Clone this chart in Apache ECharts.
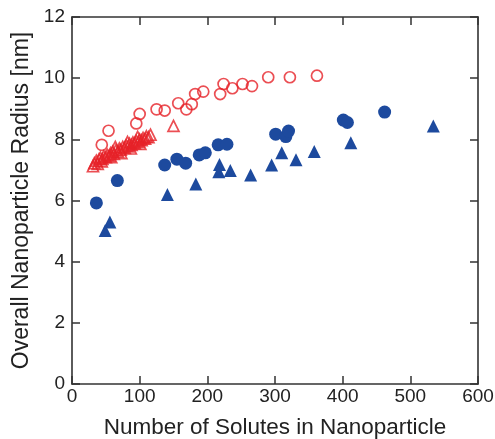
<!DOCTYPE html>
<html>
<head>
<meta charset="utf-8">
<script src="https://cdn.jsdelivr.net/npm/echarts@6/dist/echarts.min.js"></script>
<style>html,body{margin:0;padding:0;background:#fff}#c{width:495px;height:439px}</style>
</head>
<body>
<div id="c"></div>
<script>
// Blue filled circles
const blueCircles = [
  [36, 5.92], [67, 6.65], [137, 7.16], [155, 7.35], [168, 7.22], [188, 7.49], [197, 7.56],
  [216, 7.82], [229, 7.84], [301, 8.17], [316, 8.09], [320, 8.27], [401, 8.63], [407, 8.55], [462, 8.89]
];
// Blue filled triangles
const blueTriangles = [
  [49, 5.02], [56, 5.3], [141, 6.2], [183, 6.54], [217, 6.94], [218, 7.18], [234, 6.98],
  [264, 6.83], [295, 7.16], [310, 7.56], [331, 7.33], [358, 7.6], [412, 7.89], [534, 8.44]
];
// Red open circles
const redCircles = [
  [44, 7.82], [54, 8.28], [95, 8.52], [100, 8.83], [125, 8.98], [137, 8.94], [157, 9.18],
  [169, 8.98], [177, 9.15], [182, 9.48], [194, 9.56], [219, 9.48], [224, 9.81], [237, 9.67],
  [252, 9.81], [266, 9.74], [290, 10.03], [322, 10.03], [362, 10.08]
];
// Red open triangles
const redTriangles = [
  [31, 7.12], [33, 7.22], [36, 7.3], [38, 7.2], [40, 7.35], [42, 7.4], [45, 7.36], [47, 7.45],
  [50, 7.42], [52, 7.5], [55, 7.47], [57, 7.55], [60, 7.6], [62, 7.52], [65, 7.65], [68, 7.6],
  [70, 7.7], [72, 7.66], [75, 7.75], [78, 7.72], [80, 7.8], [83, 7.77], [85, 7.86], [88, 7.82],
  [90, 7.9], [93, 7.87], [95, 7.95], [98, 7.92], [100, 8.0], [103, 7.97], [105, 8.05],
  [108, 8.02], [110, 8.1], [113, 8.07], [116, 8.15], [150, 8.44],
  [44, 7.28], [58, 7.42], [73, 7.55], [87, 7.7], [101, 7.85], [64, 7.75], [82, 7.92], [97, 8.08]
];
const xTicks = [0, 100, 200, 300, 400, 500, 600];
const yTicks = [0, 2, 4, 6, 8, 10, 12];

const BLUE = '#1d4a9e', RED = '#e62228', AX = '#333';
const font = 'Liberation Sans, Arial, sans-serif';
const chart = echarts.init(document.getElementById('c'));
const axLine = {show: true, onZero: false, lineStyle: {color: AX, width: 1.6}};
const tick = {show: true, inside: true, length: 8, lineStyle: {color: AX, width: 1.5}};
chart.setOption({
  animation: false,
  grid: {left: 72, right: 17, top: 17, bottom: 55, containLabel: false, outerBoundsMode: 'none'},
  xAxis: [{
    type: 'value', position: 'bottom', min: xTicks[0], max: xTicks[xTicks.length - 1], interval: 100,
    name: 'Number of Solutes in Nanoparticle', nameLocation: 'middle', nameGap: 32,
    nameTextStyle: {fontFamily: font, fontSize: 22.5, color: '#222'},
    axisLine: axLine, axisTick: tick, splitLine: {show: false},
    axisLabel: {fontFamily: font, fontSize: 19, color: '#222', margin: 3}
  }, {
    type: 'value', position: 'top', min: 0, max: 600, interval: 100,
    axisLine: axLine, axisTick: tick, axisLabel: {show: false}, splitLine: {show: false}
  }],
  yAxis: [{
    type: 'value', position: 'left', min: yTicks[0], max: yTicks[yTicks.length - 1], interval: 2,
    name: 'Overall Nanoparticle Radius [nm]', nameLocation: 'middle', nameGap: 28,
    nameTextStyle: {fontFamily: font, fontSize: 23, color: '#222'},
    axisLine: axLine, axisTick: tick, splitLine: {show: false},
    axisLabel: {fontFamily: font, fontSize: 19, color: '#222', margin: 7}
  }, {
    type: 'value', position: 'right', min: 0, max: 12, interval: 2,
    axisLine: axLine, axisTick: tick, axisLabel: {show: false}, splitLine: {show: false}
  }],
  series: [
    {type: 'scatter', data: redTriangles, symbol: 'triangle', symbolSize: 11,
     itemStyle: {color: 'rgba(255,255,255,0)', borderColor: RED, borderWidth: 1.7}},
    {type: 'scatter', data: redCircles, symbol: 'circle', symbolSize: 11,
     itemStyle: {color: 'rgba(255,255,255,0)', borderColor: RED, borderWidth: 1.7}},
    {type: 'scatter', data: blueCircles, symbol: 'circle', symbolSize: 13,
     itemStyle: {color: BLUE, opacity: 1}},
    {type: 'scatter', data: blueTriangles, symbol: 'triangle', symbolSize: 13,
     itemStyle: {color: BLUE, opacity: 1}}
  ]
});
</script>
</body>
</html>
